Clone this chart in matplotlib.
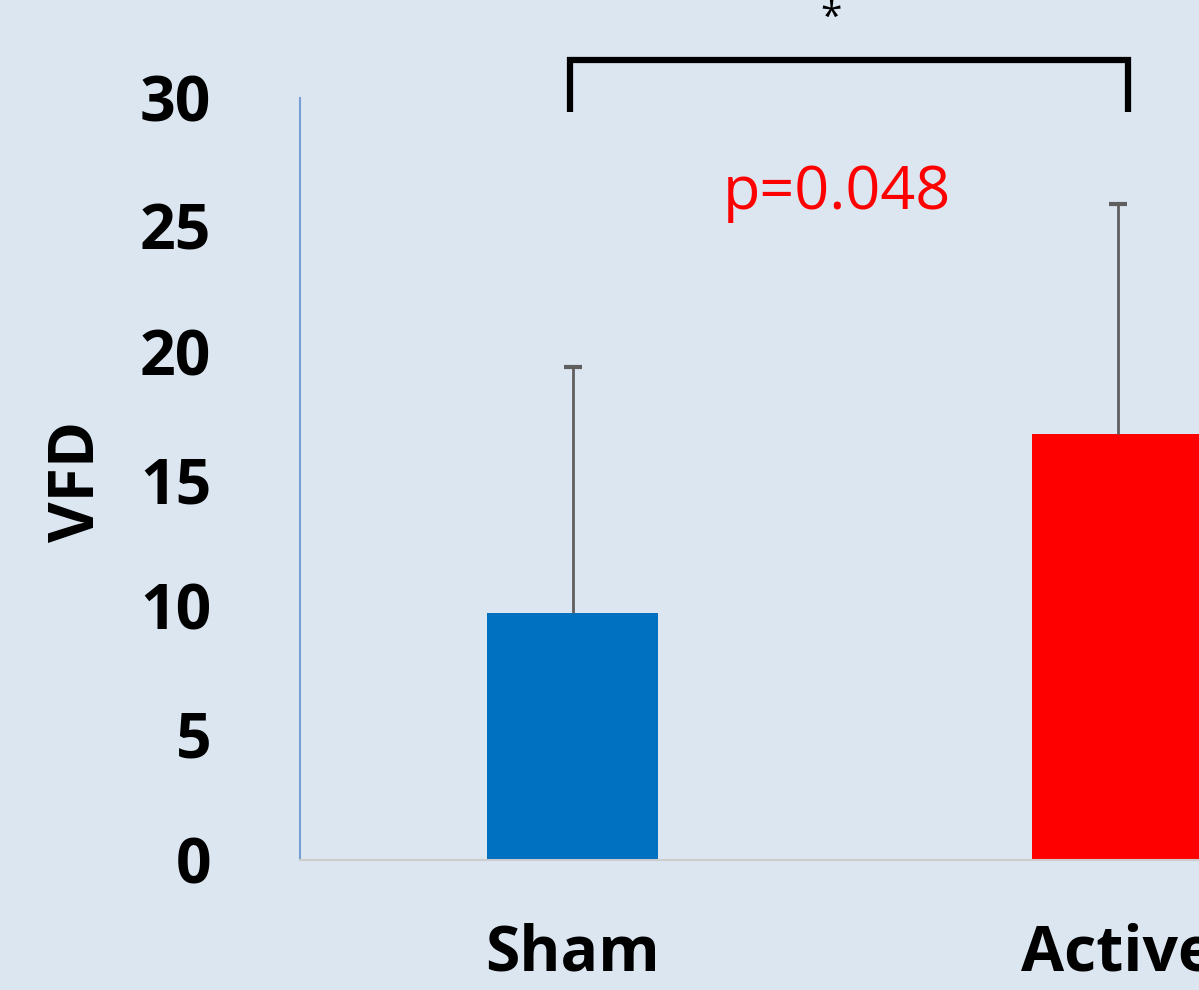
import matplotlib
matplotlib.use("Agg")
from matplotlib import pyplot as plt

# group means and upper error (SD) for VFD
groups = ["Sham", "Active"]
means = [9.72, 16.77]
errors = [9.68, 9.06]
bar_colors = ["#0070C0", "#FF0000"]
p_label = "p=0.048"
yticks = [0, 5, 10, 15, 20, 25, 30]

plt.rcParams['font.family'] = ['Open Sans', 'DejaVu Sans']
bg = "#DCE6F1"

fig = plt.figure(figsize=(11.99, 9.9), dpi=100, facecolor=bg)
# axes run past the right edge, so the second group is cut off
ax = fig.add_axes([300/1199, 130/990, 1090/1199, 762/990], facecolor=bg)

x = list(range(len(groups)))
tops = [m + e for m, e in zip(means, errors)]
ax.bar(x, means, width=0.315, color=bar_colors, zorder=2)
ax.vlines(x, means, tops, color="#5F5F5F", lw=2, zorder=3)
ax.plot(x, tops, ls="none", marker="_", ms=13, mew=3, color="#5F5F5F", zorder=3)

ax.set_xlim(-0.5, 1.5)
ax.set_ylim(0, 30)
ax.set_yticks(yticks)
ax.set_yticklabels([str(t) for t in yticks], fontsize=45, fontweight="bold")
ax.tick_params(axis="y", length=0, pad=64)
ax.set_xticks(x)
ax.set_xticklabels(groups, fontsize=45, fontweight="bold")
ax.tick_params(axis="x", length=0, pad=45)

for side in ["top", "right"]:
    ax.spines[side].set_visible(False)
ax.spines["left"].set_color("#7A9FD4")
ax.spines["left"].set_linewidth(1.5)
ax.spines["bottom"].set_color("#CCCCCC")
ax.spines["bottom"].set_linewidth(1.5)

fig.text(77/1199, 1 - 481/990, "VFD", rotation=90, fontsize=45,
         fontweight="bold", ha="center", va="center")

# significance bracket over both groups
yb_top, yb_low = 31.5, 29.45
ax.plot([-0.005, -0.005, 1.02, 1.02], [yb_low, yb_top, yb_top, yb_low],
        color="black", lw=4.5, clip_on=False, solid_capstyle="butt",
        solid_joinstyle="miter")
ax.text(0.475, 33.1, "*", fontsize=28, ha="center", va="center")
ax.text(0.485, 26.25, p_label, fontsize=44, color="#FF0000",
        ha="center", va="center")

fig.savefig("out.png", dpi=100, facecolor=bg)
